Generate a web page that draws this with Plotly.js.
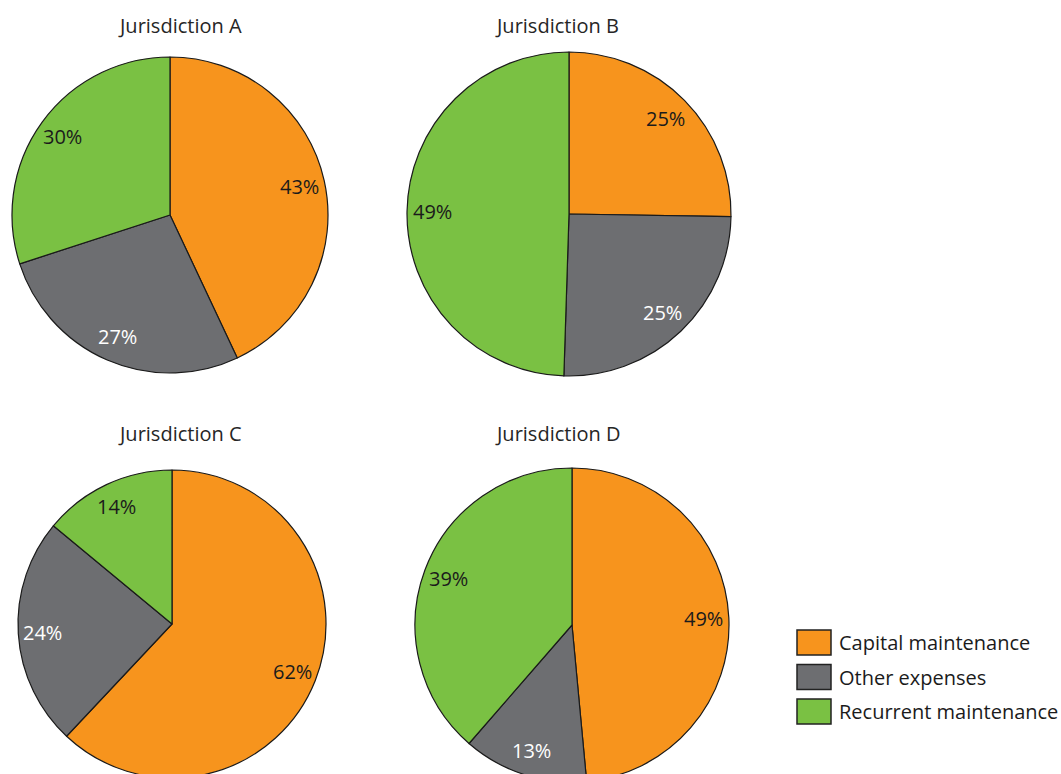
<!DOCTYPE html>
<html>
<head>
<meta charset="utf-8">
<script src="https://cdn.plot.ly/plotly-3.0.1.min.js"></script>
<style>
  html, body { margin: 0; padding: 0; background: #ffffff; overflow: hidden; }
  #chart { width: 1061px; height: 800px; }
</style>
</head>
<body>
<div id="chart"></div>
<script>
// ---- Data ----
const categories = ['Capital maintenance', 'Other expenses', 'Recurrent maintenance'];
const jurisdictions = ['Jurisdiction A', 'Jurisdiction B', 'Jurisdiction C', 'Jurisdiction D'];
const valuesA = [43, 27, 30];
const valuesB = [25, 25, 49];
const valuesC = [62, 24, 14];
const valuesD = [49, 13, 39];
const allValues = [valuesA, valuesB, valuesC, valuesD];

// ---- Styles ----
const sliceColors = ['#F7941D', '#6D6E71', '#7AC143'];
const labelColors = ['#1b1b1b', '#ffffff', '#1b1b1b'];
const FONT = '"Open Sans", "Noto Sans", sans-serif';

// ---- Layout geometry (pixels) ----
const W = 1061, H = 800;
const pieGeom = [
  {cx: 170, cy: 215, r: 158, tx: 180, ty: 25},
  {cx: 569, cy: 214, r: 162, tx: 557, ty: 25},
  {cx: 172, cy: 624, r: 154, tx: 180, ty: 433},
  {cx: 572, cy: 625, r: 157, tx: 557, ty: 433}
];
const labelRadiusFrac = 0.84;

const traces = [];
const annotations = [];
const shapes = [];

allValues.forEach((vals, i) => {
  const g = pieGeom[i];
  traces.push({
    type: 'pie',
    labels: categories,
    values: vals,
    sort: false,
    direction: 'clockwise',
    rotation: 0,
    textinfo: 'none',
    hoverinfo: 'label+value',
    showlegend: false,
    marker: { colors: sliceColors, line: { color: '#1a1a1a', width: 1.2 } },
    domain: {
      x: [(g.cx - g.r) / W, (g.cx + g.r) / W],
      y: [1 - (g.cy + g.r) / H, 1 - (g.cy - g.r) / H]
    }
  });
  // title
  annotations.push({
    xref: 'paper', yref: 'paper',
    x: g.tx / W, y: 1 - g.ty / H,
    xanchor: 'center', yanchor: 'middle',
    text: jurisdictions[i], showarrow: false,
    font: { family: FONT, size: 20, color: '#262626' }
  });
  // slice labels (best-fit near the rim along each slice's bisector)
  const total = vals.reduce((a, b) => a + b, 0);
  let cum = 0;
  vals.forEach((v, k) => {
    const mid = (cum + v / 2) / total * 2 * Math.PI;
    cum += v;
    const d = g.r * labelRadiusFrac;
    const px = g.cx + d * Math.sin(mid);
    const py = g.cy - d * Math.cos(mid);
    annotations.push({
      xref: 'paper', yref: 'paper',
      x: px / W, y: 1 - py / H,
      xanchor: 'center', yanchor: 'middle',
      text: v + '%', showarrow: false,
      font: { family: FONT, size: 20, color: labelColors[k] }
    });
  });
});

// custom legend
const legX = 797, legY0 = 642.5, legStep = 34.5, boxW = 34, boxH = 25;
categories.forEach((c, k) => {
  const yc = legY0 + k * legStep;
  shapes.push({
    type: 'rect', xref: 'paper', yref: 'paper',
    x0: legX / W, x1: (legX + boxW) / W,
    y0: 1 - (yc + boxH / 2) / H, y1: 1 - (yc - boxH / 2) / H,
    fillcolor: sliceColors[k], line: { color: '#222222', width: 1.5 }
  });
  annotations.push({
    xref: 'paper', yref: 'paper',
    x: (legX + boxW + 6) / W, y: 1 - yc / H,
    xanchor: 'left', yanchor: 'middle',
    text: c, showarrow: false,
    font: { family: FONT, size: 20, color: '#1b1b1b' }
  });
});

const layout = {
  width: W, height: H,
  margin: { l: 0, r: 0, t: 0, b: 0, pad: 0 },
  paper_bgcolor: '#ffffff',
  plot_bgcolor: '#ffffff',
  showlegend: false,
  annotations: annotations,
  shapes: shapes
};

Plotly.newPlot('chart', traces, layout, { displayModeBar: false, staticPlot: true });
</script>
</body>
</html>
